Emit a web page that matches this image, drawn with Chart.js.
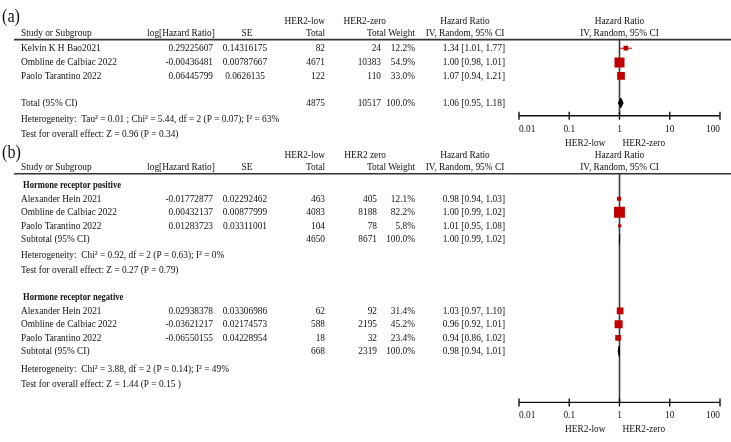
<!DOCTYPE html>
<html>
<head>
<meta charset="utf-8">
<script src="https://cdn.jsdelivr.net/npm/chart.js@4.4.1/dist/chart.umd.min.js"></script>
<style>
  html, body { margin: 0; padding: 0; background: #fff; }
  canvas { display: block; }
</style>
</head>
<body>
<canvas id="forest" width="731" height="442"></canvas>
<script>
// ---- (a) all patients
const studiesA = ['Kelvin K H Bao2021', 'Ombline de Calbiac 2022', 'Paolo Tarantino 2022'];
const logHrA = [0.29225607, -0.00436481, 0.06445799];
const seA = [0.14316175, 0.00787667, 0.0626135];
const lowTotalA = [82, 4671, 122];
const zeroTotalA = [24, 10383, 110];
const weightA = [12.2, 54.9, 33.0];
const hrA = [1.34, 1.00, 1.07];
const loA = [1.01, 0.98, 0.94];
const hiA = [1.77, 1.01, 1.21];
const totalA = { low: 4875, zero: 10517, weight: 100.0, hr: 1.06, lo: 0.95, hi: 1.18 };
const hetA = 'Heterogeneity:  Tau\u00b2 = 0.01 ; Chi\u00b2 = 5.44, df = 2 (P = 0.07); I\u00b2 = 63%';
const testA = 'Test for overall effect: Z = 0.96 (P = 0.34)';

// ---- (b) by hormone receptor status
const studiesB = ['Alexander Hein 2021', 'Ombline de Calbiac 2022', 'Paolo Tarantino 2022'];
const logHrPos = [-0.01772877, 0.00432137, 0.01283723];
const sePos = [0.02292462, 0.00877999, 0.03311001];
const lowTotalPos = [463, 4083, 104];
const zeroTotalPos = [405, 8188, 78];
const weightPos = [12.1, 82.2, 5.8];
const hrPos = [0.98, 1.00, 1.01];
const loPos = [0.94, 0.99, 0.95];
const hiPos = [1.03, 1.02, 1.08];
const subPos = { low: 4650, zero: 8671, weight: 100.0, hr: 1.00, lo: 0.99, hi: 1.02 };
const hetPos = 'Heterogeneity:  Chi\u00b2 = 0.92, df = 2 (P = 0.63); I\u00b2 = 0%';
const testPos = 'Test for overall effect: Z = 0.27 (P = 0.79)';

const logHrNeg = [0.02938378, -0.03621217, -0.06550155];
const seNeg = [0.03306986, 0.02174573, 0.04228954];
const lowTotalNeg = [62, 588, 18];
const zeroTotalNeg = [92, 2195, 32];
const weightNeg = [31.4, 45.2, 23.4];
const hrNeg = [1.03, 0.96, 0.94];
const loNeg = [0.97, 0.92, 0.86];
const hiNeg = [1.10, 1.01, 1.02];
const subNeg = { low: 668, zero: 2319, weight: 100.0, hr: 0.98, lo: 0.94, hi: 1.01 };
const hetNeg = 'Heterogeneity:  Chi\u00b2 = 3.88, df = 2 (P = 0.14); I\u00b2 = 49%';
const testNeg = 'Test for overall effect: Z = 1.44 (P = 0.15 )';

const axisTicks = [0.01, 0.1, 1, 10, 100];
const axisTickLabels = ['0.01', '0.1', '1', '10', '100'];

// ---- layout (row slots, 1 slot = 14px)
const SLOT = 14;
const L = {
  a: { label: 0.72, head1: 1.0, head2: 1.86, rule: 2.36, rows: [3, 4.05, 5.05], total: 7.05, het: 8.25, test: 9.35, axis: 8.0 },
  b: { label: 10.75, head1: 10.93, head2: 11.79, rule: 12.29,
       posHead: 13.14, posRows: [14.14, 15.14, 16.14], posSub: 17.14, posHet: 18.29, posTest: 19.43,
       negHead: 21.43, negRows: [22.43, 23.43, 24.43], negSub: 25.43, negHet: 26.71, negTest: 27.86,
       axis: 29.21 }
};
const COL = { study: 21, logHr: 213, se: 245, low: 325, zeroA: 381, zeroB: 377, zeroHead: 386,
              weight: 415, hr: 505, hrHead: 465 };
const INK = '#111';
const RED = '#c00000';
const FONT = "11px 'Liberation Serif', 'Times New Roman', serif";
const BOLD = "bold 11px 'Liberation Serif', 'Times New Roman', serif";
const HS = 0.85;      // the source type is narrower than Liberation Serif
const HS_BOLD = 0.78; // and its bold is narrower still

// ---- marks
const ciData = [], sqData = [], sqSize = [];
function addStudies(rows, hr, lo, hi, w, k) {
  rows.forEach((r, i) => {
    ciData.push({ x: lo[i], y: r }, { x: hi[i], y: r }, { x: 1, y: null });
    sqData.push({ x: hr[i], y: r });
    sqSize.push(Math.max(3, k * Math.sqrt(w[i])) / Math.SQRT2);
  });
}
addStudies(L.a.rows, hrA, loA, hiA, weightA, 1.35);
addStudies(L.b.posRows, hrPos, loPos, hiPos, weightPos, 1.2);
addStudies(L.b.negRows, hrNeg, loNeg, hiNeg, weightNeg, 1.2);

function diamond(p, row) {
  const h = 0.36;
  return {
    data: [{ x: p.lo, y: row }, { x: p.hr, y: row - h }, { x: p.hi, y: row }, { x: p.hr, y: row + h }, { x: p.lo, y: row }],
    showLine: true, fill: 'shape', backgroundColor: '#000', borderColor: '#000', borderWidth: 1,
    pointRadius: 0, order: 1
  };
}

const fmtHr = p => p.hr.toFixed(2) + ' [' + p.lo.toFixed(2) + ', ' + p.hi.toFixed(2) + ']';

const textPlugin = {
  id: 'forestText',
  afterDraw(chart) {
    const ctx = chart.ctx;
    const xs = chart.scales.x, ys = chart.scales.y;
    const Y = r => ys.getPixelForValue(r);
    const draw = (s, x, y, align, font, hs) => {
      ctx.save();
      ctx.font = font || FONT;
      ctx.textAlign = align || 'left';
      ctx.textBaseline = 'middle';
      ctx.fillStyle = INK;
      ctx.translate(x, y);
      ctx.scale(hs || HS, 1);
      ctx.fillText(s, 0, 0);
      ctx.restore();
    };
    const put = (s, x, r, align, font, hs) => draw(s, x, Y(r), align, font, hs);
    const plotMid = (xs.left + xs.right) / 2;

    function header(p, tag, zeroName) {
      put(tag, 2, p.label, 'left', "19px 'Liberation Serif', serif");
      put('HER2-low', COL.low, p.head1, 'right');
      put(zeroName, COL.zeroHead, p.head1, 'right');
      put('Hazard Ratio', COL.hrHead, p.head1, 'center');
      put('Hazard Ratio', plotMid, p.head1, 'center');
      put('Study or Subgroup', COL.study, p.head2);
      put('log[Hazard Ratio]', 181, p.head2, 'center');
      put('SE', 247, p.head2, 'center');
      put('Total', COL.low, p.head2, 'right');
      put('Total', COL.zeroHead, p.head2, 'right');
      put('Weight', COL.weight, p.head2, 'right');
      put('IV, Random, 95% CI', COL.hrHead, p.head2, 'center');
      put('IV, Random, 95% CI', plotMid, p.head2, 'center');
      ctx.save();
      ctx.strokeStyle = '#333';
      ctx.lineWidth = 1.6;
      ctx.beginPath();
      ctx.moveTo(14, Y(p.rule));
      ctx.lineTo(chart.width, Y(p.rule));
      ctx.stroke();
      ctx.restore();
    }
    function studyRows(rows, names, lhr, se, low, zero, w, hr, lo, hi, zeroX) {
      rows.forEach((r, i) => {
        put(names[i], COL.study, r);
        put(String(lhr[i]), COL.logHr, r, 'right');
        put(String(se[i]), COL.se, r, 'center');
        put(String(low[i]), COL.low, r, 'right');
        put(String(zero[i]), zeroX, r, 'right');
        put(w[i].toFixed(1) + '%', COL.weight, r, 'right');
        put(fmtHr({ hr: hr[i], lo: lo[i], hi: hi[i] }), COL.hr, r, 'right');
      });
    }
    function pooled(name, p, r, zeroX) {
      put(name, COL.study, r);
      put(String(p.low), COL.low, r, 'right');
      put(String(p.zero), zeroX, r, 'right');
      put(p.weight.toFixed(1) + '%', COL.weight, r, 'right');
      put(fmtHr(p), COL.hr, r, 'right');
    }
    function axis(r) {
      const y = Y(r);
      ctx.save();
      ctx.strokeStyle = '#111';
      ctx.lineWidth = 1.4;
      ctx.beginPath();
      ctx.moveTo(xs.getPixelForValue(axisTicks[0]), y);
      ctx.lineTo(xs.getPixelForValue(axisTicks[axisTicks.length - 1]), y);
      axisTicks.forEach(t => {
        const x = xs.getPixelForValue(t);
        ctx.moveTo(x, y - 4);
        ctx.lineTo(x, y + 4);
      });
      ctx.stroke();
      ctx.restore();
      axisTicks.forEach((t, i) => {
        const align = i === 0 ? 'left' : (i === axisTicks.length - 1 ? 'right' : 'center');
        draw(axisTickLabels[i], xs.getPixelForValue(t), y + 13, align);
      });
      const one = xs.getPixelForValue(1);
      draw('HER2-low', one - 14, y + 27, 'right');
      draw('HER2-zero', one + 3, y + 27, 'left');
    }

    // (a)
    header(L.a, '(a)', 'HER2-zero');
    studyRows(L.a.rows, studiesA, logHrA, seA, lowTotalA, zeroTotalA, weightA, hrA, loA, hiA, COL.zeroA);
    pooled('Total (95% CI)', totalA, L.a.total, COL.zeroA);
    put(hetA, COL.study, L.a.het);
    put(testA, COL.study, L.a.test);
    axis(L.a.axis);

    // (b)
    header(L.b, '(b)', 'HER2 zero');
    put('Hormone receptor positive', COL.study + 2, L.b.posHead, 'left', BOLD, HS_BOLD);
    studyRows(L.b.posRows, studiesB, logHrPos, sePos, lowTotalPos, zeroTotalPos, weightPos, hrPos, loPos, hiPos, COL.zeroB);
    pooled('Subtotal (95% CI)', subPos, L.b.posSub, COL.zeroB);
    put(hetPos, COL.study, L.b.posHet);
    put(testPos, COL.study, L.b.posTest);
    put('Hormone receptor negative', COL.study + 2, L.b.negHead, 'left', BOLD, HS_BOLD);
    studyRows(L.b.negRows, studiesB, logHrNeg, seNeg, lowTotalNeg, zeroTotalNeg, weightNeg, hrNeg, loNeg, hiNeg, COL.zeroB);
    pooled('Subtotal (95% CI)', subNeg, L.b.negSub, COL.zeroB);
    put(hetNeg, COL.study, L.b.negHet);
    put(testNeg, COL.study, L.b.negTest);
    axis(L.b.axis);
  }
};

new Chart(document.getElementById('forest'), {
  type: 'scatter',
  data: {
    datasets: [
      { // line of no effect
        data: [{ x: 1, y: L.a.rule }, { x: 1, y: L.a.axis }, { x: 1, y: null }, { x: 1, y: L.b.rule }, { x: 1, y: L.b.axis }],
        showLine: true, spanGaps: false, borderColor: '#3a3a3a', borderWidth: 1.6, pointRadius: 0, order: 4
      },
      { // confidence intervals
        data: ciData, showLine: true, spanGaps: false, borderColor: RED, borderWidth: 1.2, pointRadius: 0, order: 3
      },
      { // study estimates
        data: sqData, pointStyle: 'rect', pointRadius: sqSize, backgroundColor: RED, borderWidth: 0, order: 2
      },
      diamond(totalA, L.a.total),
      diamond(subPos, L.b.posSub),
      diamond(subNeg, L.b.negSub)
    ]
  },
  options: {
    responsive: false,
    animation: false,
    devicePixelRatio: 1,
    layout: { padding: { left: 519, right: 11, top: 0, bottom: 0 } },
    scales: {
      x: { type: 'logarithmic', min: 0.01, max: 100, display: false },
      y: { type: 'linear', min: 0, max: 442 / SLOT, reverse: true, display: false }
    },
    plugins: { legend: { display: false }, tooltip: { enabled: false } }
  },
  plugins: [textPlugin]
});
</script>
</body>
</html>
